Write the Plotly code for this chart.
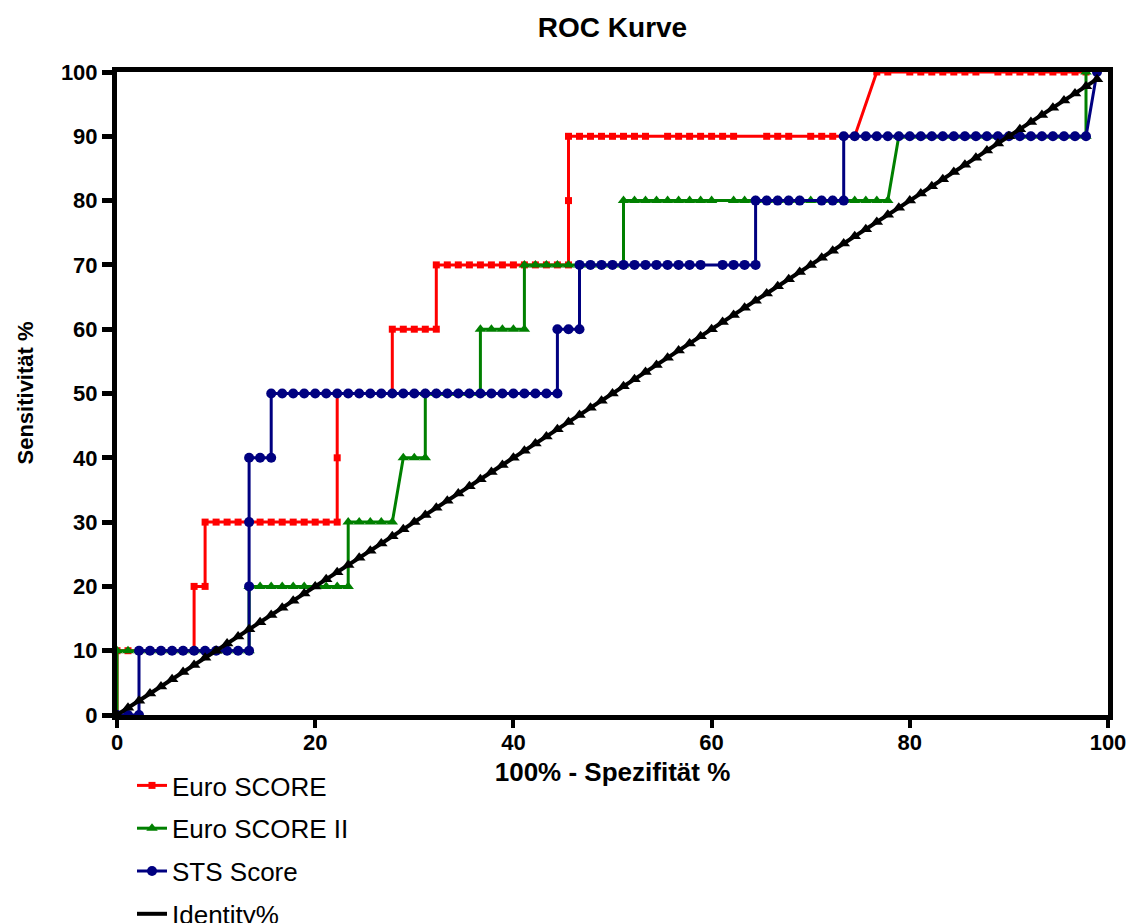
import plotly.graph_objects as go

# ---------------- data ----------------
# Euro SCORE
euro_x = [0,
          0, 1.11, 2.22, 3.33, 4.44, 5.56, 6.67, 7.78,
          7.78, 8.89,
          8.89, 10.0, 11.11, 12.22, 13.33, 14.44, 15.56, 16.67, 17.78, 18.89, 20.0, 21.11, 22.22,
          22.22,
          22.22, 23.33, 24.44, 25.56, 26.67, 27.78,
          27.78, 28.89, 30.0, 31.11, 32.22,
          32.22, 33.33, 34.44, 35.56, 36.67, 37.78, 38.89, 40.0, 41.11, 42.22, 43.33, 44.44, 45.56,
          45.56,
          45.56, 46.67, 47.78, 48.89, 50.0, 51.11, 52.22, 53.33, 55.56, 56.67, 57.78, 58.89, 60.0,
          61.11, 62.22, 65.56, 66.67, 67.78, 70.0, 71.11, 72.22, 73.33, 74.44,
          76.67, 77.78, 80.0, 81.11, 82.22, 83.33, 84.44, 85.56, 86.67, 88.89, 90.0, 91.11, 92.22,
          93.33, 94.44, 95.56, 96.67, 97.78]
euro_y = [0,
          10, 10, 10, 10, 10, 10, 10, 10,
          20, 20,
          30, 30, 30, 30, 30, 30, 30, 30, 30, 30, 30, 30, 30,
          40,
          50, 50, 50, 50, 50, 50,
          60, 60, 60, 60, 60,
          70, 70, 70, 70, 70, 70, 70, 70, 70, 70, 70, 70, 70,
          80,
          90, 90, 90, 90, 90, 90, 90, 90, 90, 90, 90, 90, 90,
          90, 90, 90, 90, 90, 90, 90, 90, 90, 90,
          100, 100, 100, 100, 100, 100, 100, 100, 100, 100, 100, 100, 100,
          100, 100, 100, 100, 100]

# Euro SCORE II
euro2_x = [0,
           0, 1.11, 2.22, 3.33, 4.44, 5.56, 6.67, 7.78, 8.89, 10.0, 11.11, 12.22, 13.33,
           13.33, 14.44, 15.56, 16.67, 17.78, 18.89, 20.0, 21.11, 22.22, 23.33,
           23.33, 24.44, 25.56, 26.67, 27.78,
           28.89, 30.0, 31.11,
           31.11, 32.22, 33.33, 34.44, 35.56, 36.67,
           36.67, 37.78, 38.89, 40.0, 41.11,
           41.11, 42.22, 43.33, 44.44, 45.56, 46.67, 47.78, 48.89, 50.0, 51.11,
           51.11, 52.22, 53.33, 54.44, 55.56, 56.67, 57.78, 58.89, 60.0, 62.22, 63.33, 64.44,
           65.56, 66.67, 67.78, 68.89, 70.0, 71.11, 72.22, 73.33, 74.44, 75.56, 76.67, 77.78,
           78.89, 80.0, 81.11, 82.22, 83.33, 84.44, 85.56, 86.67, 87.78, 88.89, 90.0, 91.11,
           92.22, 93.33, 94.44, 95.56, 96.67, 97.78,
           97.78]
euro2_y = [0,
           10, 10, 10, 10, 10, 10, 10, 10, 10, 10, 10, 10, 10,
           20, 20, 20, 20, 20, 20, 20, 20, 20, 20,
           30, 30, 30, 30, 30,
           40, 40, 40,
           50, 50, 50, 50, 50, 50,
           60, 60, 60, 60, 60,
           70, 70, 70, 70, 70, 70, 70, 70, 70, 70,
           80, 80, 80, 80, 80, 80, 80, 80, 80, 80, 80, 80,
           80, 80, 80, 80, 80, 80, 80, 80, 80, 80, 80, 80,
           90, 90, 90, 90, 90, 90, 90, 90, 90, 90, 90, 90,
           90, 90, 90, 90, 90, 90,
           100]

# STS Score
sts_x = [0, 1.11, 2.22,
         2.22, 3.33, 4.44, 5.56, 6.67, 7.78, 8.89, 10.0, 11.11, 12.22, 13.33,
         13.33,
         13.33,
         13.33, 14.44, 15.56,
         15.56, 16.67, 17.78, 18.89, 20.0, 21.11, 22.22, 23.33, 24.44, 25.56, 26.67, 27.78,
         28.89, 30.0, 31.11, 32.22, 33.33, 34.44, 35.56, 36.67, 37.78, 38.89, 40.0, 41.11,
         42.22, 43.33, 44.44,
         44.44, 45.56, 46.67,
         46.67, 47.78, 48.89, 50.0, 51.11, 52.22, 53.33, 54.44, 55.56, 56.67, 57.78, 58.89,
         61.11, 62.22, 63.33, 64.44,
         64.44, 65.56, 66.67, 67.78, 68.89, 71.11, 72.22, 73.33,
         73.33, 74.44, 75.56, 76.67, 77.78, 78.89, 80.0, 81.11, 82.22, 83.33, 84.44, 85.56,
         86.67, 87.78, 88.89, 90.0, 91.11, 92.22, 93.33, 94.44, 95.56, 96.67, 97.78,
         98.89]
sts_y = [0, 0, 0,
         10, 10, 10, 10, 10, 10, 10, 10, 10, 10, 10,
         20,
         30,
         40, 40, 40,
         50, 50, 50, 50, 50, 50, 50, 50, 50, 50, 50, 50,
         50, 50, 50, 50, 50, 50, 50, 50, 50, 50, 50, 50,
         50, 50, 50,
         60, 60, 60,
         70, 70, 70, 70, 70, 70, 70, 70, 70, 70, 70, 70,
         70, 70, 70, 70,
         80, 80, 80, 80, 80, 80, 80, 80,
         90, 90, 90, 90, 90, 90, 90, 90, 90, 90, 90, 90,
         90, 90, 90, 90, 90, 90, 90, 90, 90, 90, 90,
         100]

# Identity line
identity_x = [0, 1.11, 2.22, 3.33, 4.44, 5.56, 6.67, 7.78, 8.89, 10.0,
              11.11, 12.22, 13.33, 14.44, 15.56, 16.67, 17.78, 18.89, 20.0, 21.11,
              22.22, 23.33, 24.44, 25.56, 26.67, 27.78, 28.89, 30.0, 31.11, 32.22,
              33.33, 34.44, 35.56, 36.67, 37.78, 38.89, 40.0, 41.11, 42.22, 43.33,
              44.44, 45.56, 46.67, 47.78, 48.89, 50.0, 51.11, 52.22, 53.33, 54.44,
              55.56, 56.67, 57.78, 58.89, 60.0, 61.11, 62.22, 63.33, 64.44, 65.56,
              66.67, 67.78, 68.89, 70.0, 71.11, 72.22, 73.33, 74.44, 75.56, 76.67,
              77.78, 78.89, 80.0, 81.11, 82.22, 83.33, 84.44, 85.56, 86.67, 87.78,
              88.89, 90.0, 91.11, 92.22, 93.33, 94.44, 95.56, 96.67, 97.78, 98.89]
identity_y = [0, 1.11, 2.22, 3.33, 4.44, 5.56, 6.67, 7.78, 8.89, 10.0,
              11.11, 12.22, 13.33, 14.44, 15.56, 16.67, 17.78, 18.89, 20.0, 21.11,
              22.22, 23.33, 24.44, 25.56, 26.67, 27.78, 28.89, 30.0, 31.11, 32.22,
              33.33, 34.44, 35.56, 36.67, 37.78, 38.89, 40.0, 41.11, 42.22, 43.33,
              44.44, 45.56, 46.67, 47.78, 48.89, 50.0, 51.11, 52.22, 53.33, 54.44,
              55.56, 56.67, 57.78, 58.89, 60.0, 61.11, 62.22, 63.33, 64.44, 65.56,
              66.67, 67.78, 68.89, 70.0, 71.11, 72.22, 73.33, 74.44, 75.56, 76.67,
              77.78, 78.89, 80.0, 81.11, 82.22, 83.33, 84.44, 85.56, 86.67, 87.78,
              88.89, 90.0, 91.11, 92.22, 93.33, 94.44, 95.56, 96.67, 97.78, 98.89]

series_names = ["Euro SCORE", "Euro SCORE II", "STS Score", "Identity%"]
x_ticks = [0, 20, 40, 60, 80, 100]
y_ticks = [0, 10, 20, 30, 40, 50, 60, 70, 80, 90, 100]

FONT = "Liberation Sans, Arial, sans-serif"

fig = go.Figure()
fig.add_trace(go.Scatter(
    x=euro_x, y=euro_y, name=series_names[0], mode="lines+markers",
    line=dict(color="#ff0000", width=3),
    marker=dict(symbol="square", size=7, color="#ff0000"),
    legendgroup="a", cliponaxis=False))
fig.add_trace(go.Scatter(
    x=euro2_x, y=euro2_y, name=series_names[1], mode="lines+markers",
    line=dict(color="#008000", width=3),
    marker=dict(symbol="triangle-up", size=10, color="#008000"),
    legendgroup="b", cliponaxis=False))
fig.add_trace(go.Scatter(
    x=sts_x, y=sts_y, name=series_names[2], mode="lines+markers",
    line=dict(color="#000080", width=3),
    marker=dict(symbol="circle", size=10, color="#000080"),
    legendgroup="c", cliponaxis=False))
fig.add_trace(go.Scatter(
    x=identity_x, y=identity_y, name=series_names[3], mode="lines",
    line=dict(color="#000000", width=4),
    legendgroup="d", cliponaxis=False))
fig.add_trace(go.Scatter(
    x=identity_x, y=identity_y, name=series_names[3], mode="markers",
    marker=dict(symbol="triangle-up", size=11, color="#000000"),
    legendgroup="d", showlegend=False, cliponaxis=False))

axis_common = dict(
    showgrid=False, zeroline=False, showline=True, linecolor="#000000",
    linewidth=5, mirror=True, ticks="outside", tickcolor="#000000",
    tickfont=dict(family=FONT, size=22, color="#000000", weight="bold"),
)

fig.update_layout(
    width=1135, height=923,
    paper_bgcolor="#ffffff", plot_bgcolor="#ffffff",
    margin=dict(l=117, r=27, t=72, b=208, autoexpand=False),
    title=dict(text="<b>ROC Kurve</b>", x=0.5, xref="paper", xanchor="center",
               y=1 - 27 / 923, yref="container", yanchor="middle",
               font=dict(family=FONT, size=28, color="#000000")),
    xaxis=dict(range=[0, 100], tickvals=x_ticks, ticklen=8, tickwidth=4,
               ticklabelstandoff=-4,
               title=dict(text="<b>100% - Spezifität %</b>", standoff=10,
                          font=dict(family=FONT, size=26, color="#000000")),
               **axis_common),
    yaxis=dict(range=[0, 100], tickvals=y_ticks, ticklen=10, tickwidth=5,
               **axis_common),
    annotations=[dict(text="<b>Sensitivität %</b>", textangle=-90,
                      xref="paper", yref="paper", x=(25 - 117) / 991, y=0.5,
                      xanchor="center", yanchor="middle", showarrow=False,
                      font=dict(family=FONT, size=22, color="#000000"))],
    showlegend=True,
    legend=dict(xref="container", yref="container", x=132 / 1135, y=1 - 762 / 923,
                xanchor="left", yanchor="top", traceorder="grouped",
                tracegroupgap=6, bgcolor="rgba(0,0,0,0)",
                font=dict(family=FONT, size=26, color="#000000")),
)

fig.write_html("out.html")
